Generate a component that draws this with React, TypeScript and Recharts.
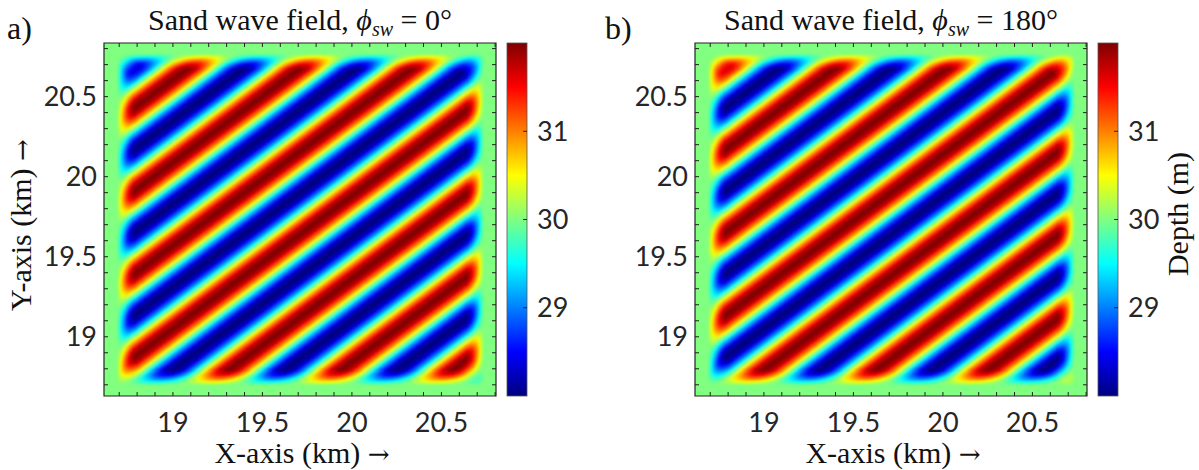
import React from 'react';
import { ComposedChart, XAxis, YAxis, ReferenceArea } from 'recharts';

// ---------------- data ----------------
const xDomainKm = [18.615, 20.805];
const yDomainKm = [18.63, 20.835];
const xTickValues = [18.7, 18.8, 18.9, 19.0, 19.1, 19.2, 19.3, 19.4, 19.5, 19.6, 19.7, 19.8, 19.9, 20.0, 20.1, 20.2, 20.3, 20.4, 20.5, 20.6, 20.7, 20.8];
const yTickValues = [18.7, 18.8, 18.9, 19.0, 19.1, 19.2, 19.3, 19.4, 19.5, 19.6, 19.7, 19.8, 19.9, 20.0, 20.1, 20.2, 20.3, 20.4, 20.5, 20.6, 20.7, 20.8];
const xTickLabels = ['19', '19.5', '20', '20.5'];
const yTickLabels = ['19', '19.5', '20', '20.5'];
const depthDomain = [28, 32];
const depthTickValues = [29, 30, 31];
const colorbarXRange = [0, 1];
// depth (m) across one sand-wave length, starting at a crest
const depthProfile = [32.0, 31.93, 31.73, 31.41, 31.0, 30.52, 30.0, 29.48, 29.0, 28.59, 28.27, 28.07, 28.0, 28.07, 28.27, 28.59, 29.0, 29.48, 30.0, 30.52, 31.0, 31.41, 31.73, 31.93, 32.0];
const fieldXKm = [18.69, 20.735];
const fieldYKm = [18.7, 20.765];
// taper of the wave amplitude near the edge of the field
const envelopeInsetKm = [0, 0.01, 0.02, 0.03, 0.04, 0.05, 0.06, 0.07, 0.085];
const envelopeGain = [0.08, 0.2, 0.33, 0.46, 0.58, 0.7, 0.8, 0.9, 1.0];
const envelopeCornerPx = [6, 8, 10, 11, 12, 13, 14, 15, 15];
// a point on a crest line (x, y in km) and crest spacing along x and along y
const crestPointKm = [20.587, 18.81];
const crestSpacingXKm = 0.626;
const crestSpacingYKm = 0.519;
const panelPhaseDeg = [0, 180];
const panelLetters = ['a)', 'b)'];
const panelLeft = [0, 591];

// ---------------- layout / style ----------------
const CH_W = 600;
const CH_H = 470;
const PLOT_W = 392;
const PLOT_H = 353;
const TICK_LEN = 4;
const BG_GREEN = '#80ff80';
const AXIS_COLOR = '#222';
const TEXT_COLOR = '#262626';
const SERIF = '"Liberation Serif", "DejaVu Serif", serif';
const SANS = 'Lato, "Open Sans", sans-serif';
const ARROW_FONT = '"DejaVu Serif", serif';

function jet(v: number): string {
  const c = (t: number) => Math.max(0, Math.min(1, t));
  const r = c(1.5 - Math.abs(4 * v - 3));
  const g = c(1.5 - Math.abs(4 * v - 2));
  const b = c(1.5 - Math.abs(4 * v - 1));
  return `rgb(${Math.round(r * 255)},${Math.round(g * 255)},${Math.round(b * 255)})`;
}
const depthToColor = (d: number) => jet((d - depthDomain[0]) / (depthDomain[1] - depthDomain[0]));

function makeLayerShape(id: string, gain: number, xd: number[], yd: number[], phaseDeg: number, rx: number) {
  return (props: any) => {
    const { x, y, width, height } = props;
    const sx = width / (xd[1] - xd[0]);
    const sy = height / (yd[1] - yd[0]);
    const px0 = x + (crestPointKm[0] - xd[0]) * sx;
    const py0 = y + (yd[1] - crestPointKm[1]) * sy;
    const nx = 1 / (crestSpacingXKm * sx);
    const ny = 1 / (crestSpacingYKm * sy);
    const n2 = nx * nx + ny * ny;
    const shift = phaseDeg / 360;
    const ax = px0 + (shift * nx) / n2;
    const ay = py0 + (shift * ny) / n2;
    const bx = ax + nx / n2;
    const by = ay + ny / n2;
    const mean = (depthDomain[0] + depthDomain[1]) / 2;
    return (
      <g>
        <defs>
          <linearGradient id={id} gradientUnits="userSpaceOnUse" x1={ax} y1={ay} x2={bx} y2={by} spreadMethod="repeat">
            {depthProfile.map((d, i) => (
              <stop key={i} offset={i / (depthProfile.length - 1)} stopColor={depthToColor(mean + gain * (d - mean))} />
            ))}
          </linearGradient>
          <filter id={id + '-blur'} x="-5%" y="-5%" width="110%" height="110%">
            <feGaussianBlur stdDeviation="1.3" />
          </filter>
        </defs>
        <rect x={x} y={y} width={width} height={height} rx={rx} ry={rx} fill={`url(#${id})`} filter={`url(#${id}-blur)`} />
      </g>
    );
  };
}

const fmt = (v: number) => String(Number(Number(v).toFixed(2)));

const XTick = (props: any) => {
  const { x, y, payload } = props;
  const label = fmt(payload.value);
  const major = xTickLabels.includes(label);
  return (
    <g>
      <line x1={x} x2={x} y1={y} y2={y - TICK_LEN} stroke={AXIS_COLOR} strokeWidth={1} />
      <line x1={x} x2={x} y1={y - PLOT_H} y2={y - PLOT_H + TICK_LEN} stroke={AXIS_COLOR} strokeWidth={1} />
      {major && (
        <text x={x} y={y + 36} textAnchor="middle" fontFamily={SANS} fontSize={27} fill={TEXT_COLOR}>
          {label}
        </text>
      )}
    </g>
  );
};

const YTick = (props: any) => {
  const { x, y, payload } = props;
  const label = fmt(payload.value);
  const major = yTickLabels.includes(label);
  return (
    <g>
      <line x1={x} x2={x + TICK_LEN} y1={y} y2={y} stroke={AXIS_COLOR} strokeWidth={1} />
      <line x1={x + PLOT_W} x2={x + PLOT_W - TICK_LEN} y1={y} y2={y} stroke={AXIS_COLOR} strokeWidth={1} />
      {major && (
        <text x={x - 7} y={y + 9.5} textAnchor="end" fontFamily={SANS} fontSize={27} fill={TEXT_COLOR}>
          {label}
        </text>
      )}
    </g>
  );
};

const CbTick = (props: any) => {
  const { x, y, payload } = props;
  return (
    <g>
      <line x1={x} x2={x - TICK_LEN} y1={y} y2={y} stroke={AXIS_COLOR} strokeWidth={1} />
      <text x={x + 10} y={y + 9.5} textAnchor="start" fontFamily={SANS} fontSize={27} fill={TEXT_COLOR}>
        {fmt(payload.value)}
      </text>
    </g>
  );
};

const colorbarShape = (id: string) => (props: any) => {
  const { x, y, width, height } = props;
  const stopsAt = [0, 0.125, 0.375, 0.625, 0.875, 1];
  return (
    <g>
      <defs>
        <linearGradient id={id} x1="0" y1="1" x2="0" y2="0">
          {stopsAt.map((s, i) => (
            <stop key={i} offset={s} stopColor={jet(s)} />
          ))}
        </linearGradient>
      </defs>
      <rect x={x} y={y} width={width} height={height} fill={`url(#${id})`} stroke="#555" strokeWidth={0.8} />
    </g>
  );
};

function Panel({ idx }: { idx: number }) {
  const phase = panelPhaseDeg[idx];
  return (
    <div style={{ position: 'absolute', left: panelLeft[idx], top: 0, width: CH_W, height: CH_H }}>
      <div style={{ position: 'absolute', left: 0, top: 0 }}>
        <ComposedChart width={CH_W} height={CH_H} data={[]} margin={{ top: 43, right: 104, bottom: 44, left: 34 }}>
          <XAxis
            type="number"
            dataKey="x"
            domain={xDomainKm}
            allowDataOverflow
            ticks={xTickValues}
            interval={0}
            tickSize={0}
            tickMargin={0}
            tickLine={false}
            axisLine={false}
            height={30}
            tick={<XTick />}
          />
          <YAxis
            type="number"
            dataKey="y"
            domain={yDomainKm}
            allowDataOverflow
            ticks={yTickValues}
            interval={0}
            tickSize={0}
            tickMargin={0}
            tickLine={false}
            axisLine={false}
            width={70}
            tick={<YTick />}
          />
          <ReferenceArea x1={xDomainKm[0]} x2={xDomainKm[1]} y1={yDomainKm[0]} y2={yDomainKm[1]} fill={BG_GREEN} fillOpacity={1} stroke="none" />
          {envelopeGain.map((g, k) => {
            const ins = envelopeInsetKm[k];
            const xd = [fieldXKm[0] + ins, fieldXKm[1] - ins];
            const yd = [fieldYKm[0] + ins, fieldYKm[1] - ins];
            return (
              <ReferenceArea
                key={k}
                x1={xd[0]}
                x2={xd[1]}
                y1={yd[0]}
                y2={yd[1]}
                ifOverflow="visible"
                shape={makeLayerShape(`wave-${idx}-${k}`, g, xd, yd, phase, envelopeCornerPx[k])}
              />
            );
          })}
          <ReferenceArea x1={xDomainKm[0]} x2={xDomainKm[1]} y1={yDomainKm[0]} y2={yDomainKm[1]} fill="none" fillOpacity={0} stroke={AXIS_COLOR} strokeWidth={1.2} />
        </ComposedChart>
      </div>
      <div style={{ position: 'absolute', left: 0, top: 0 }}>
        <ComposedChart width={CH_W} height={CH_H} data={[]} margin={{ top: 43, right: 13, bottom: 74, left: 507 }}>
          <XAxis type="number" dataKey="x" domain={colorbarXRange} allowDataOverflow hide />
          <YAxis
            type="number"
            dataKey="d"
            orientation="right"
            domain={depthDomain}
            allowDataOverflow
            ticks={depthTickValues}
            interval={0}
            tickSize={0}
            tickMargin={0}
            tickLine={false}
            axisLine={false}
            width={60}
            tick={<CbTick />}
          />
          <ReferenceArea
            x1={colorbarXRange[0]}
            x2={colorbarXRange[1]}
            y1={depthDomain[0]}
            y2={depthDomain[1]}
            ifOverflow="visible"
            shape={colorbarShape(`cb-${idx}`)}
          />
        </ComposedChart>
      </div>
    </div>
  );
}

export default function App() {
  return (
    <div style={{ position: 'absolute', left: 0, top: 0, width: 1199, height: 470, background: '#fff', overflow: 'hidden' }}>
      <Panel idx={0} />
      <Panel idx={1} />
      <svg width={1199} height={470} style={{ position: 'absolute', left: 0, top: 0, pointerEvents: 'none' }}>
        {[0, 1].map((i) => (
          <g key={i}>
            <text x={panelLeft[i] + (i === 0 ? 7 : 14)} y={39} fontFamily={SERIF} fontSize={32} fill="#111">
              {panelLetters[i]}
            </text>
            <text x={panelLeft[i] + 300} y={30} textAnchor="middle" fontFamily={SERIF} fontSize={30} fill="#111">
              Sand wave field,{' '}
              <tspan fontStyle="italic">ϕ</tspan>
              <tspan fontStyle="italic" fontSize={20} dy={6}>
                sw
              </tspan>
              <tspan dy={-6}>{`  =  ${panelPhaseDeg[i]}°`}</tspan>
            </text>
            <text x={panelLeft[i] + 302} y={463} textAnchor="middle" fontFamily={SERIF} fontSize={30} fill="#111">
              X-axis (km) <tspan fontFamily={ARROW_FONT} fontSize={26}>→</tspan>
            </text>
          </g>
        ))}
        <text transform="translate(31,225) rotate(-90)" textAnchor="middle" fontFamily={SERIF} fontSize={30} fill="#111">
          Y-axis (km) <tspan fontFamily={ARROW_FONT} fontSize={26}>→</tspan>
        </text>
        <text transform="translate(1188,214) rotate(-90)" textAnchor="middle" fontFamily={SERIF} fontSize={30} fill="#111">
          Depth (m)
        </text>
      </svg>
    </div>
  );
}
